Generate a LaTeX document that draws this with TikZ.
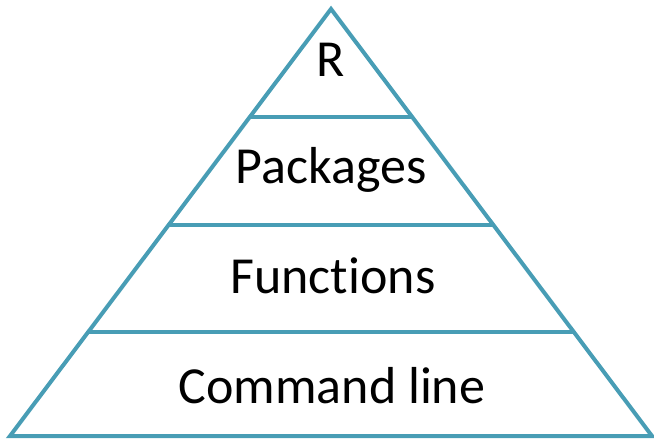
\documentclass[tikz,border=0pt]{standalone}
\usepackage{fontspec}
\setmainfont{Carlito}[Ligatures=NoCommon]
\usetikzlibrary{calc}
\definecolor{pyramidblue}{RGB}{72,157,181}

\begin{document}
\begin{tikzpicture}[x=1pt, y=-1pt,
        tier/.style={font=\fontsize{52}{62}\selectfont, anchor=base, inner sep=0pt}]
        \useasboundingbox (0,0) rectangle (654,441);

        % Outline of the pyramid
        \coordinate (apex) at (331, 9);
        \coordinate (left) at (10, 436);
        \coordinate (right) at (652, 436);
        \draw[pyramidblue, line width=4pt] (apex) -- (left) -- (right) -- cycle;

        % Dividing lines between the tiers
        \foreach \t/\name in {0.253/one, 0.506/two, 0.756/three} {
            \coordinate (l\name) at ($(apex)!\t!(left)$);
            \coordinate (r\name) at ($(apex)!\t!(right)$);
            \draw[pyramidblue, line width=4pt] (l\name) -- (r\name);
        }

        % Tier labels
        \node[tier] (r) at (331, 77) {R};
        \node[tier] (packages) at (331, 184) {Packages};
        \node[tier] (functions) at (333, 293) {Functions};
        \node[tier] (cmdline) at (332, 403) {Command line};
    \end{tikzpicture}
\end{document}
